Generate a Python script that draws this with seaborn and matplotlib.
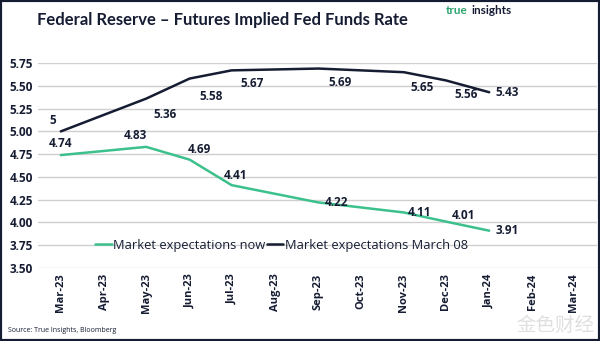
import matplotlib
matplotlib.use("Agg")
import matplotlib.pyplot as plt
import matplotlib.dates as mdates
from matplotlib.patches import Rectangle
import pandas as pd
import seaborn as sns

dates = ["2023-03-01", "2023-05-01", "2023-06-01", "2023-07-01",
         "2023-09-01", "2023-11-01", "2023-12-01", "2024-01-01"]
now_vals = [4.74, 4.83, 4.69, 4.41, 4.22, 4.11, 4.01, 3.91]
march_vals = [5.00, 5.36, 5.58, 5.67, 5.69, 5.65, 5.56, 5.43]
now_labels = ["4.74", "4.83", "4.69", "4.41", "4.22", "4.11", "4.01", "3.91"]
march_labels = ["5", "5.36", "5.58", "5.67", "5.69", "5.65", "5.56", "5.43"]
series_names = ["Market expectations now", "Market expectations March 08"]
yticks = [3.50, 3.75, 4.00, 4.25, 4.50, 4.75, 5.00, 5.25, 5.50, 5.75]

GREEN = "#3cc08c"
NAVY = "#161d33"

sns.set_theme(style="white")
plt.rcParams["font.family"] = ["Open Sans", "DejaVu Sans"]

df = pd.DataFrame({
    "date": pd.to_datetime(dates * 2),
    "rate": now_vals + march_vals,
    "series": [series_names[0]] * len(dates) + [series_names[1]] * len(dates),
})

fig = plt.figure(figsize=(6.0, 3.41), dpi=100)
ax = fig.add_axes([0.064, 0.214, 0.931, 0.601])

sns.lineplot(data=df, x="date", y="rate", hue="series",
             palette={series_names[0]: GREEN, series_names[1]: NAVY},
             linewidth=1.8, ax=ax)

ax.set_ylim(3.5, 5.75)
ax.set_yticks(yticks)
ax.set_yticklabels([f"{v:.2f}" for v in yticks], fontsize=8.5,
                   fontweight="bold", color=NAVY)
ax.set_xlim(pd.Timestamp("2023-02-13"), pd.Timestamp("2024-03-18"))
ax.xaxis.set_major_locator(mdates.MonthLocator())
ax.xaxis.set_major_formatter(mdates.DateFormatter("%b-%y"))
for lab in ax.get_xticklabels():
    lab.set_rotation(90)
    lab.set_fontsize(8)
    lab.set_fontweight("bold")
    lab.set_color(NAVY)
ax.tick_params(axis="both", length=0, pad=4)
ax.set_xlabel("")
ax.set_ylabel("")
ax.grid(axis="y", color="#cfcfcf", linewidth=1.0)
ax.grid(axis="x", visible=False)
for s in ax.spines.values():
    s.set_visible(False)

# data labels (offset in pixels)
now_off = [(0, 12), (-11, 11), (10, 10), (4, 10), (18, 0), (16, 0), (18, 6), (18, 0)]
march_off = [(-8, 11), (19, -16), (22, -18), (21, -13), (22, -14), (18, -15), (20, -14), (18, 0)]
dts = pd.to_datetime(dates)
for d, v, t, o in zip(dts, now_vals, now_labels, now_off):
    ax.annotate(t, (d, v), xytext=o, textcoords="offset pixels",
                ha="center", va="center", fontsize=8.5, fontweight="bold", color=NAVY)
for d, v, t, o in zip(dts, march_vals, march_labels, march_off):
    ax.annotate(t, (d, v), xytext=o, textcoords="offset pixels",
                ha="center", va="center", fontsize=8.5, fontweight="bold", color=NAVY)

leg = ax.legend(loc="center", bbox_to_anchor=(0.435, 0.11), ncol=2, frameon=False,
                fontsize=9.3, handlelength=1.3, handletextpad=0.1, columnspacing=0.1,
                borderaxespad=0)
for t in leg.get_texts():
    t.set_color(NAVY)

fig.text(0.37, 0.94, "Federal Reserve \u2013 Futures Implied Fed Funds Rate",
         ha="center", va="center", fontsize=12, fontweight="bold", color=NAVY,
         family=["Lato", "DejaVu Sans"])
fig.text(0.78, 0.97, "true", ha="right", va="center", fontsize=8.5,
         fontweight="bold", color="#2fa56f", family=["Lato", "DejaVu Sans"])
fig.text(0.785, 0.97, "insights", ha="left", va="center", fontsize=8.5,
         fontweight="bold", color=NAVY, family=["Lato", "DejaVu Sans"])
fig.text(0.013, 0.032, "Source: True Insights, Bloomberg", ha="left", va="center",
         fontsize=5, color=NAVY)
fig.text(0.86, 0.045, "金色财经", ha="left", va="center", fontsize=14,
         color="#d8d8d8", family=["Noto Sans CJK SC", "DejaVu Sans"], alpha=0.8)

fig.patches.append(Rectangle((0, 0), 1, 1, transform=fig.transFigure, fill=False,
                             edgecolor=NAVY, linewidth=3))

fig.savefig("out.png", dpi=100)
